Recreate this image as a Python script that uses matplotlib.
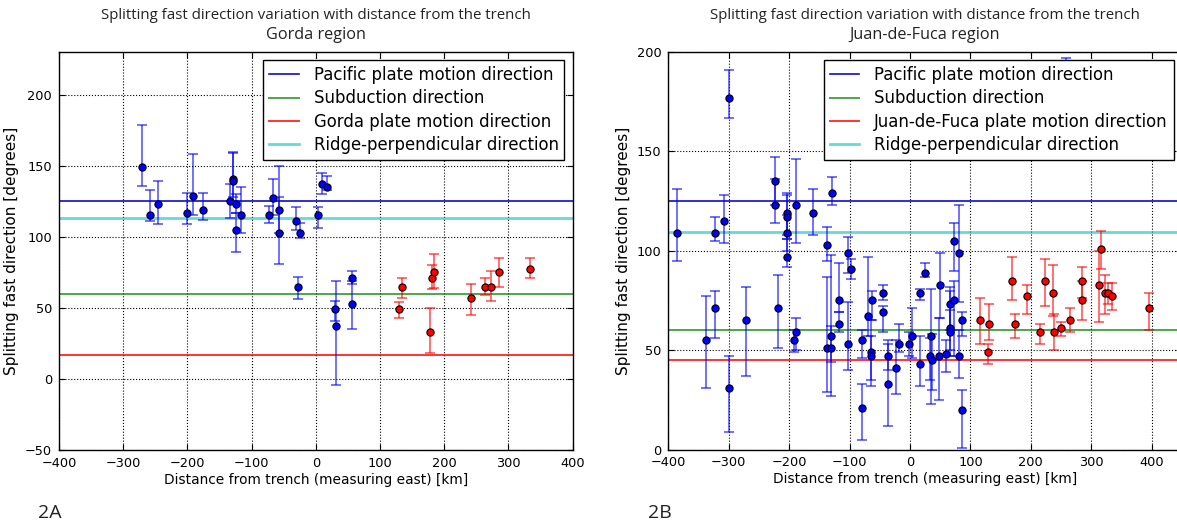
import numpy as np
import matplotlib
matplotlib.use("Agg")
import matplotlib.pyplot as plt

# ---- Gorda region (2A) ----
gorda_blue_km = [-270, -258, -245, -200, -192, -176, -134, -129, -129, -125, -125, -116,
                 -73, -66, -57, -57, -31, -24, -28, 4, 10, 17, 30, 31, 56, 57]
gorda_blue_deg = [149, 115, 123, 117, 129, 119, 125, 141, 139, 123, 105, 115,
                  115, 127, 119, 103, 111, 103, 65, 115, 137, 135, 49, 37, 71, 53]
gorda_blue_lo = [136, 111, 109, 109, 115, 112, 113, 128, 124, 117, 89, 103,
                 110, 115, 103, 81, 105, 99, 56, 106, 130, 133, 41, -4, 67, 35]
gorda_blue_hi = [179, 133, 139, 131, 158, 131, 137, 160, 159, 130, 117, 135,
                 122, 141, 150, 128, 121, 110, 72, 121, 145, 143, 55, 69, 76, 69]

gorda_red_km = [129, 135, 178, 181, 184, 242, 264, 273, 285, 334]
gorda_red_deg = [49, 65, 33, 71, 75, 57, 65, 65, 75, 77]
gorda_red_lo = [43, 57, 18, 63, 64, 45, 59, 55, 65, 71]
gorda_red_hi = [54, 71, 50, 80, 88, 67, 71, 76, 85, 85]

gorda_lines = [125, 60, 17, 113.5]
gorda_labels = ["Pacific plate motion direction", "Subduction direction",
                "Gorda plate motion direction", "Ridge-perpendicular direction"]

# ---- Juan-de-Fuca region (2B) ----
jdf_blue_km = [-386, -337, -323, -323, -307, -300, -300, -271, -224, -224, -219,
               -204, -204, -204, -204, -192, -188, -188, -161, -138, -138, -130,
               -130, -129, -117, -117, -103, -103, -98, -79, -79, -69, -63, -65,
               -65, -44, -44, -37, -37, -23, -18, -2, 3, 17, 17, 25, 35, 33, 36,
               50, 48, 59, 66, 66, 66, 73, 73, 81, 81, 86, 86, 258]
jdf_blue_deg = [109, 55, 109, 71, 115, 177, 31, 65, 135, 123, 71,
                119, 117, 109, 97, 55, 123, 59, 119, 103, 51, 51,
                57, 129, 75, 63, 99, 53, 91, 55, 21, 67, 75, 49,
                47, 79, 69, 47, 33, 41, 53, 53, 57, 43, 79, 89, 57, 47, 45,
                83, 47, 48, 61, 59, 73, 75, 105, 99, 47, 65, 20, 178]
jdf_blue_lo = [95, 31, 105, 56, 104, 167, 9, 37, 123, 114, 51,
               108, 106, 100, 92, 49, 104, 50, 108, 95, 29, 27,
               44, 123, 69, 59, 89, 40, 86, 46, 5, 57, 65, 35,
               32, 75, 59, 40, 12, 28, 49, 47, 46, 32, 75, 87, 23, 35, 30,
               66, 25, 39, 47, 50, 60, 47, 90, 74, 36, 57, 1, 160]
jdf_blue_hi = [131, 77, 117, 80, 128, 191, 47, 82, 147, 136, 88,
               129, 128, 118, 106, 60, 146, 66, 131, 112, 87, 62,
               98, 137, 94, 69, 107, 74, 96, 60, 33, 97, 80, 65,
               57, 83, 72, 55, 53, 55, 63, 59, 71, 57, 81, 94, 81, 56, 58,
               99, 66, 55, 82, 70, 80, 85, 114, 123, 60, 69, 30, 197]

jdf_red_km = [116, 129, 131, 169, 174, 194, 215, 223, 237, 238, 250, 264,
              284, 285, 313, 316, 322, 328, 335, 395]
jdf_red_deg = [65, 49, 63, 85, 63, 77, 59, 85, 79, 59, 61, 65,
               85, 75, 83, 101, 79, 79, 77, 71]
jdf_red_lo = [53, 43, 55, 75, 56, 68, 53, 72, 67, 50, 57, 59,
              76, 65, 64, 91, 68, 73, 70, 60]
jdf_red_hi = [76, 53, 73, 97, 68, 83, 63, 96, 93, 68, 64, 71,
              92, 85, 100, 110, 88, 84, 84, 79]

jdf_lines = [125, 60, 45, 109.5]
jdf_labels = ["Pacific plate motion direction", "Subduction direction",
              "Juan-de-Fuca plate motion direction", "Ridge-perpendicular direction"]

# colour, width, alpha for the four reference lines
line_styles = [("#0000cc", 1.2, 0.95), ("#008000", 1.4, 0.7),
               ("#ff0000", 1.4, 0.8), ("#00bfbf", 2.0, 0.6)]

plt.rcParams.update({
    "font.family": "DejaVu Sans",
    "font.size": 9.3,
    "xtick.direction": "in",
    "ytick.direction": "in",
    "xtick.top": True,
    "ytick.right": True,
    "xtick.major.size": 4,
    "ytick.major.size": 4,
    "xtick.major.pad": 5,
    "ytick.major.pad": 5,
    "axes.linewidth": 1.0,
})


def draw_points(ax, km, deg, lo, hi, color):
    km = np.array(km)
    deg = np.array(deg)
    err = [deg - np.array(lo), np.array(hi) - deg]
    ax.errorbar(km, deg, yerr=err, fmt="none", ecolor=color, elinewidth=1.2,
                capsize=3.8, capthick=1.2, alpha=0.65, zorder=3)
    ax.plot(km, deg, "o", color=color, mec="k", mew=0.8, ms=5.2, zorder=4)


def panel(ax, lines, labels, blue, red, xlim, ylim, yticks):
    for val, (c, lw, a), lab in zip(lines, line_styles, labels):
        ax.axhline(val, color=c, lw=lw, alpha=a, label=lab, zorder=2)
    draw_points(ax, *blue, "b")
    draw_points(ax, *red, "r")
    ax.set_xlim(*xlim)
    ax.set_ylim(*ylim)
    ax.set_xticks(np.arange(-400, 401, 100))
    ax.set_yticks(yticks)
    ax.grid(True, color="k", linestyle=":", linewidth=0.8)
    ax.set_axisbelow(True)
    ax.set_xlabel("Distance from trench (measuring east) [km]", labelpad=2,
                  fontsize=9.9)
    ax.set_ylabel("Splitting fast direction [degrees]", labelpad=4, fontsize=11)
    leg = ax.legend(loc="upper right", fontsize=11.9, fancybox=False,
                    framealpha=1, edgecolor="k", borderpad=0.35,
                    labelspacing=0.32, handlelength=1.8, handletextpad=0.9,
                    borderaxespad=0.5)
    leg.get_frame().set_linewidth(1.0)
    leg.set_zorder(10)


fig = plt.figure(figsize=(11.77, 5.27), dpi=100)
ax1 = fig.add_axes([0.0501, 0.1461, 0.4364, 0.7552])
ax2 = fig.add_axes([0.5678, 0.1470, 0.4364, 0.7543])

panel(ax1, gorda_lines, gorda_labels,
      (gorda_blue_km, gorda_blue_deg, gorda_blue_lo, gorda_blue_hi),
      (gorda_red_km, gorda_red_deg, gorda_red_lo, gorda_red_hi),
      (-400, 400), (-50, 230), np.arange(-50, 201, 50))
panel(ax2, jdf_lines, jdf_labels,
      (jdf_blue_km, jdf_blue_deg, jdf_blue_lo, jdf_blue_hi),
      (jdf_red_km, jdf_red_deg, jdf_red_lo, jdf_red_hi),
      (-400, 450), (0, 200), np.arange(0, 201, 50))

title_font = ["Open Sans", "DejaVu Sans"]
for cx, region in [(0.2683, "Gorda region"), (0.7860, "Juan-de-Fuca region")]:
    fig.text(cx, 0.9715, "Splitting fast direction variation with distance from the trench",
             ha="center", va="center", fontsize=10.8, family=title_font, color="#222222")
    fig.text(cx, 0.9336, region, ha="center", va="center", fontsize=11.7,
             family=title_font, color="#222222")

fig.text(0.0425, 0.026, "2A", ha="center", va="center", fontsize=14,
         family=title_font, color="#222222")
fig.text(0.5607, 0.026, "2B", ha="center", va="center", fontsize=14,
         family=title_font, color="#222222")

fig.savefig("out.png", dpi=100, facecolor="white")
